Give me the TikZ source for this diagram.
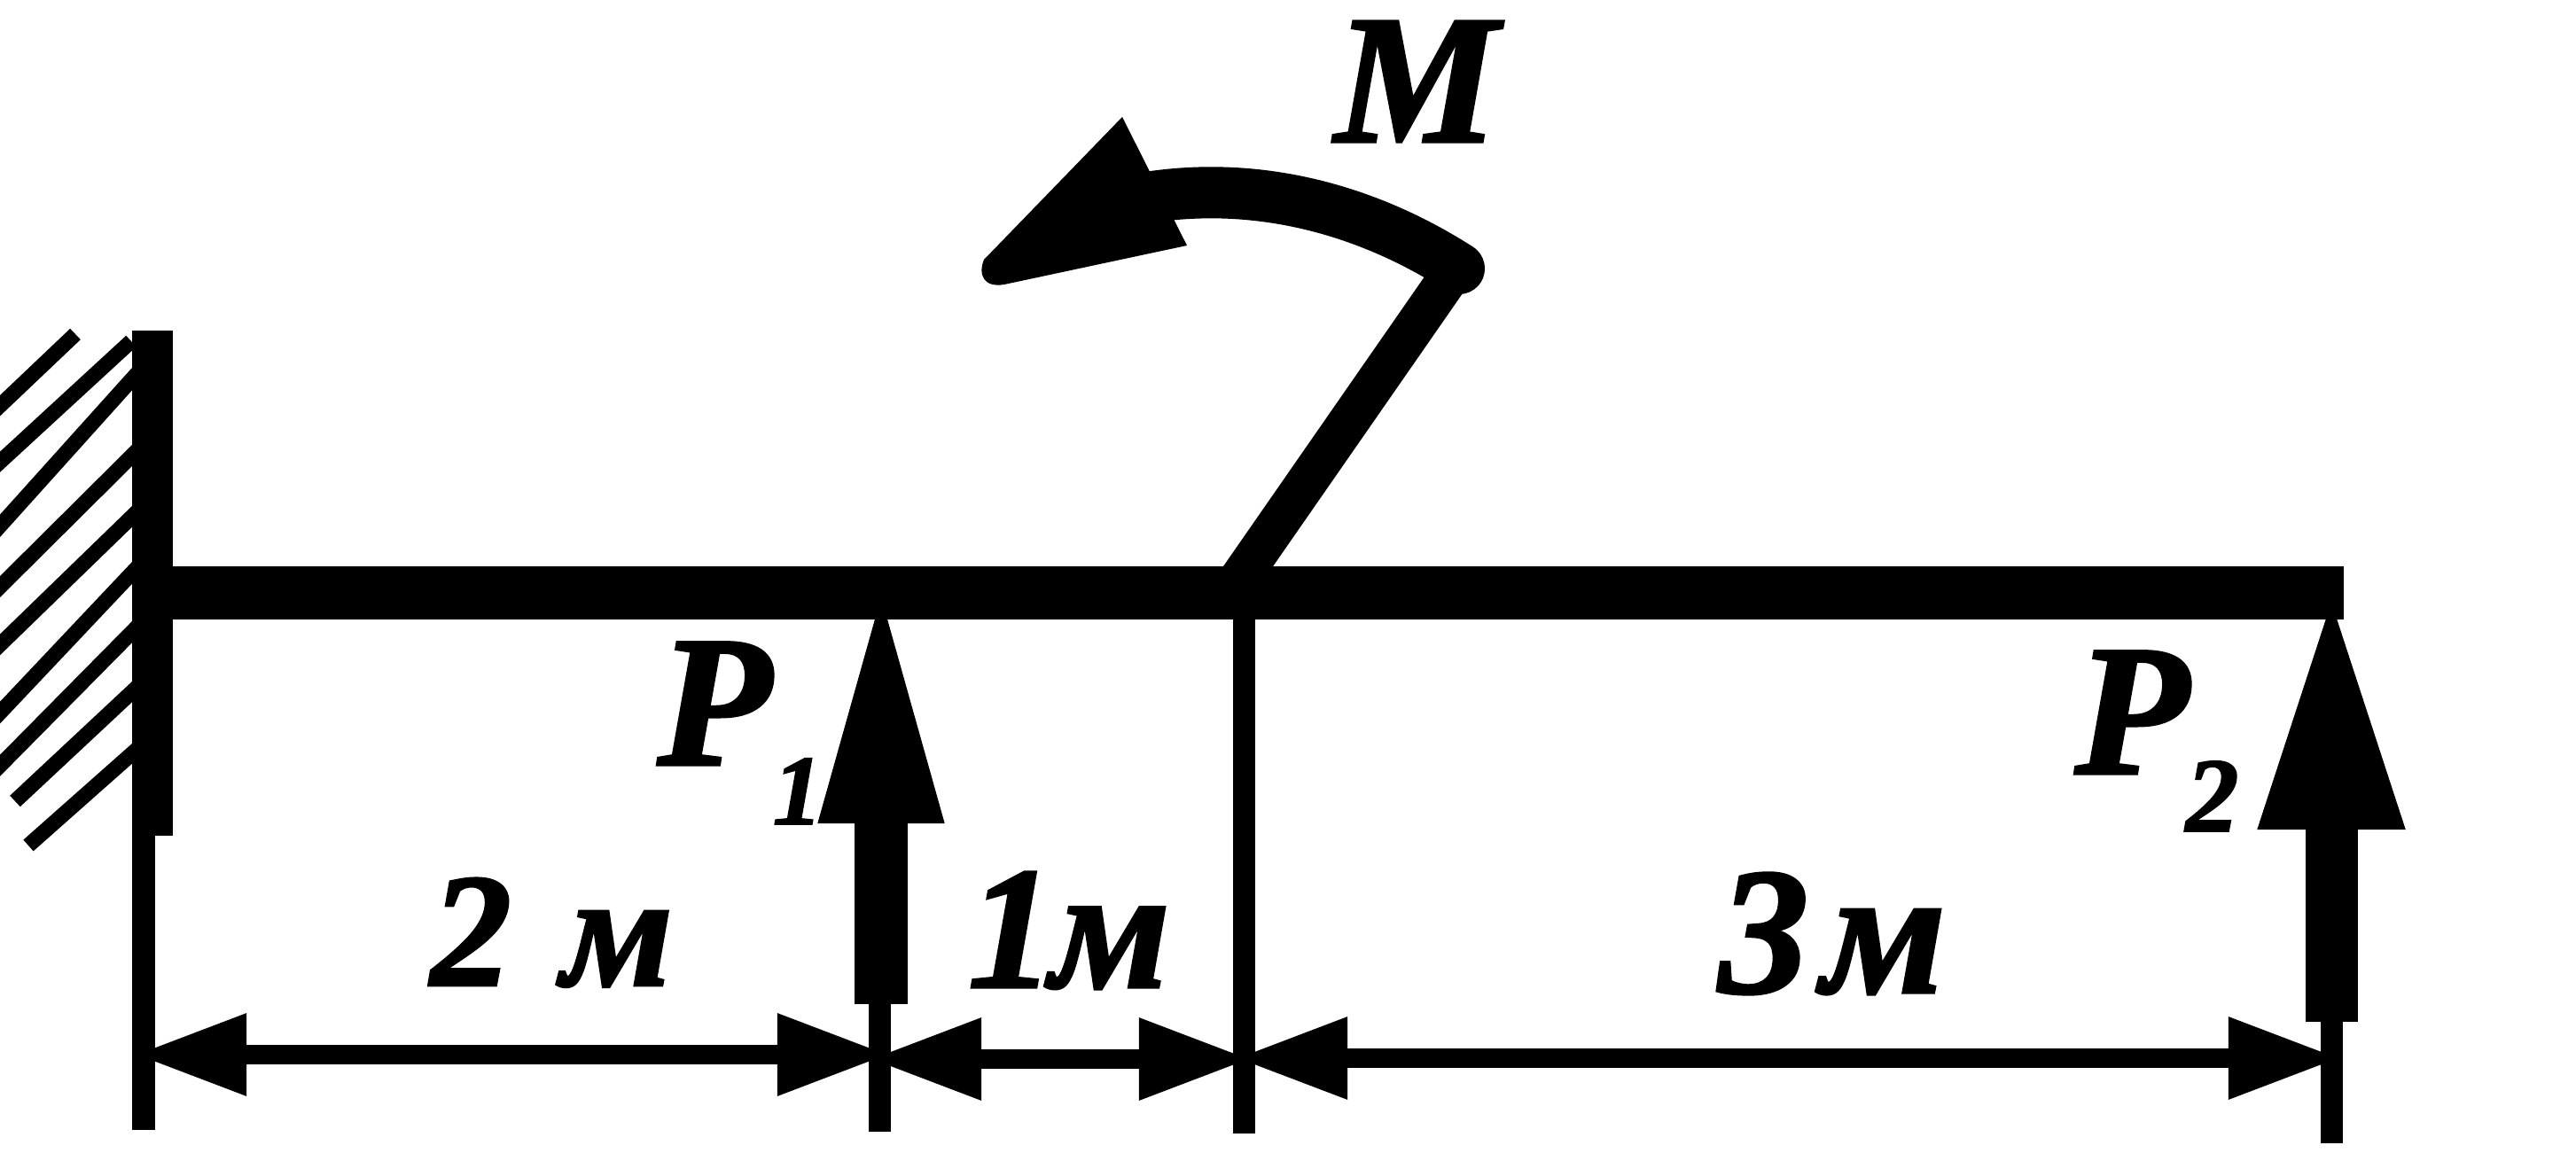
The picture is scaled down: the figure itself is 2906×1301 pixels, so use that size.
\documentclass[tikz,border=0pt]{standalone}
\usepackage{fontspec}
\setmainfont{Liberation Serif}[BoldItalicFeatures={FakeBold=1.6}]
\usetikzlibrary{arrows.meta}

\begin{document}
\begin{tikzpicture}[x=0.01cm,y=-0.01cm]
            \tikzstyle{hatchline}=[line width=0.17cm]
            \tikzstyle{extline}=[line width=0.25cm]
            \tikzstyle{dimline}=[line width=0.22cm,{Triangle[length=1.26cm,width=0.87cm]}-{Triangle[length=1.26cm,width=0.87cm]}]
            \tikzstyle{lbl}=[anchor=base west,inner sep=0pt]
            \useasboundingbox (0,0) rectangle (2906,1301);

            \foreach \name/\x/\y in {wall-t/172/373, wall-b/172/943, beam-l/172/669, beam-r/2644/669,
                    ext-a/162/943, ext-a-b/162/1275, ext-b/992/1133, ext-b-b/992/1277,
                    ext-c/1403/690, ext-c-b/1403/1279, ext-d/2630/1153, ext-d-b/2630/1290,
                    dim-a-l/152/1190, dim-a-r/1003/1190, dim-b-l/981/1195, dim-b-r/1411/1195,
                    dim-c-l/1394/1194, dim-c-r/2640/1194,
                    p-a-s/994/1133, p-a-t/994/640, p-b-s/2630/1153, p-b-t/2630/660,
                    post-b/1390/665, post-t/1640/305, arc-r/1646/303, arc-l/1300/222}
                    \coordinate (\name) at (\x,\y);

            \foreach \xa/\ya/\xb/\yb in {-15/472/85/377, -15/535/148/385, -15/610/155/421, -15/677/155/508,
                    -15/742/155/577, -15/820/155/640, -15/879/155/707, 17/904/155/775, 32/954/155/845}
                    \draw[hatchline] (\xa,\ya) -- (\xb,\yb);

            \draw[line width=0.45cm] (wall-t) -- (wall-b);
            \draw[line width=0.60cm] (beam-l) -- (beam-r);

            \draw[extline] (ext-a) -- (ext-a-b);
            \draw[extline] (ext-b) -- (ext-b-b);
            \draw[extline] (ext-c) -- (ext-c-b);
            \draw[extline] (ext-d) -- (ext-d-b);

            \draw[dimline] (dim-a-l) -- (dim-a-r);
            \draw[dimline] (dim-b-l) -- (dim-b-r);
            \draw[dimline] (dim-c-l) -- (dim-c-r);

            \draw[line width=0.59cm,-{Triangle[length=2.89cm,width=1.22cm]}] (p-a-s) -- (p-a-t);
            \draw[line width=0.59cm,-{Triangle[length=2.76cm,width=1.47cm]}] (p-b-s) -- (p-b-t);

            \draw[line width=0.46cm] (post-b) -- (post-t);
            \draw[line width=0.58cm,line cap=round] (arc-r) .. controls (1540,235) and (1420,205) .. (arc-l);
            \fill (1266,132) -- (1339,277) -- (1133,321) .. controls (1110,325) and (1103,310) .. (1110,293) -- cycle;

            \node[lbl,font=\fontsize{59}{59}\selectfont\bfseries\itshape] (m-lbl) at (1505,160) {M};
            \node[lbl,font=\fontsize{60}{60}\selectfont\bfseries\itshape] (p-a-lbl) at (741,863) {P};
            \node[lbl,font=\fontsize{32}{32}\selectfont\bfseries\itshape] (p-a-sub) at (871,930) {1};
            \node[lbl,font=\fontsize{60}{60}\selectfont\bfseries\itshape] (p-b-lbl) at (2340,873) {P};
            \node[lbl,font=\fontsize{34}{34}\selectfont\bfseries\itshape] (p-b-sub) at (2465,938) {2};
            \node[lbl,font=\fontsize{52}{52}\selectfont\bfseries\itshape] (dim-a-lbl) at (485,1112) {2\hspace{0.57cm}м};
            \node[lbl,font=\fontsize{56}{56}\selectfont\bfseries\itshape] (dim-b-lbl) at (1091,1114) {1\hspace{-0.05cm}м};
            \node[lbl,font=\fontsize{58}{58}\selectfont\bfseries\itshape] (dim-c-lbl) at (1938,1120) {3\hspace{0.15cm}м};
\end{tikzpicture}
\end{document}
